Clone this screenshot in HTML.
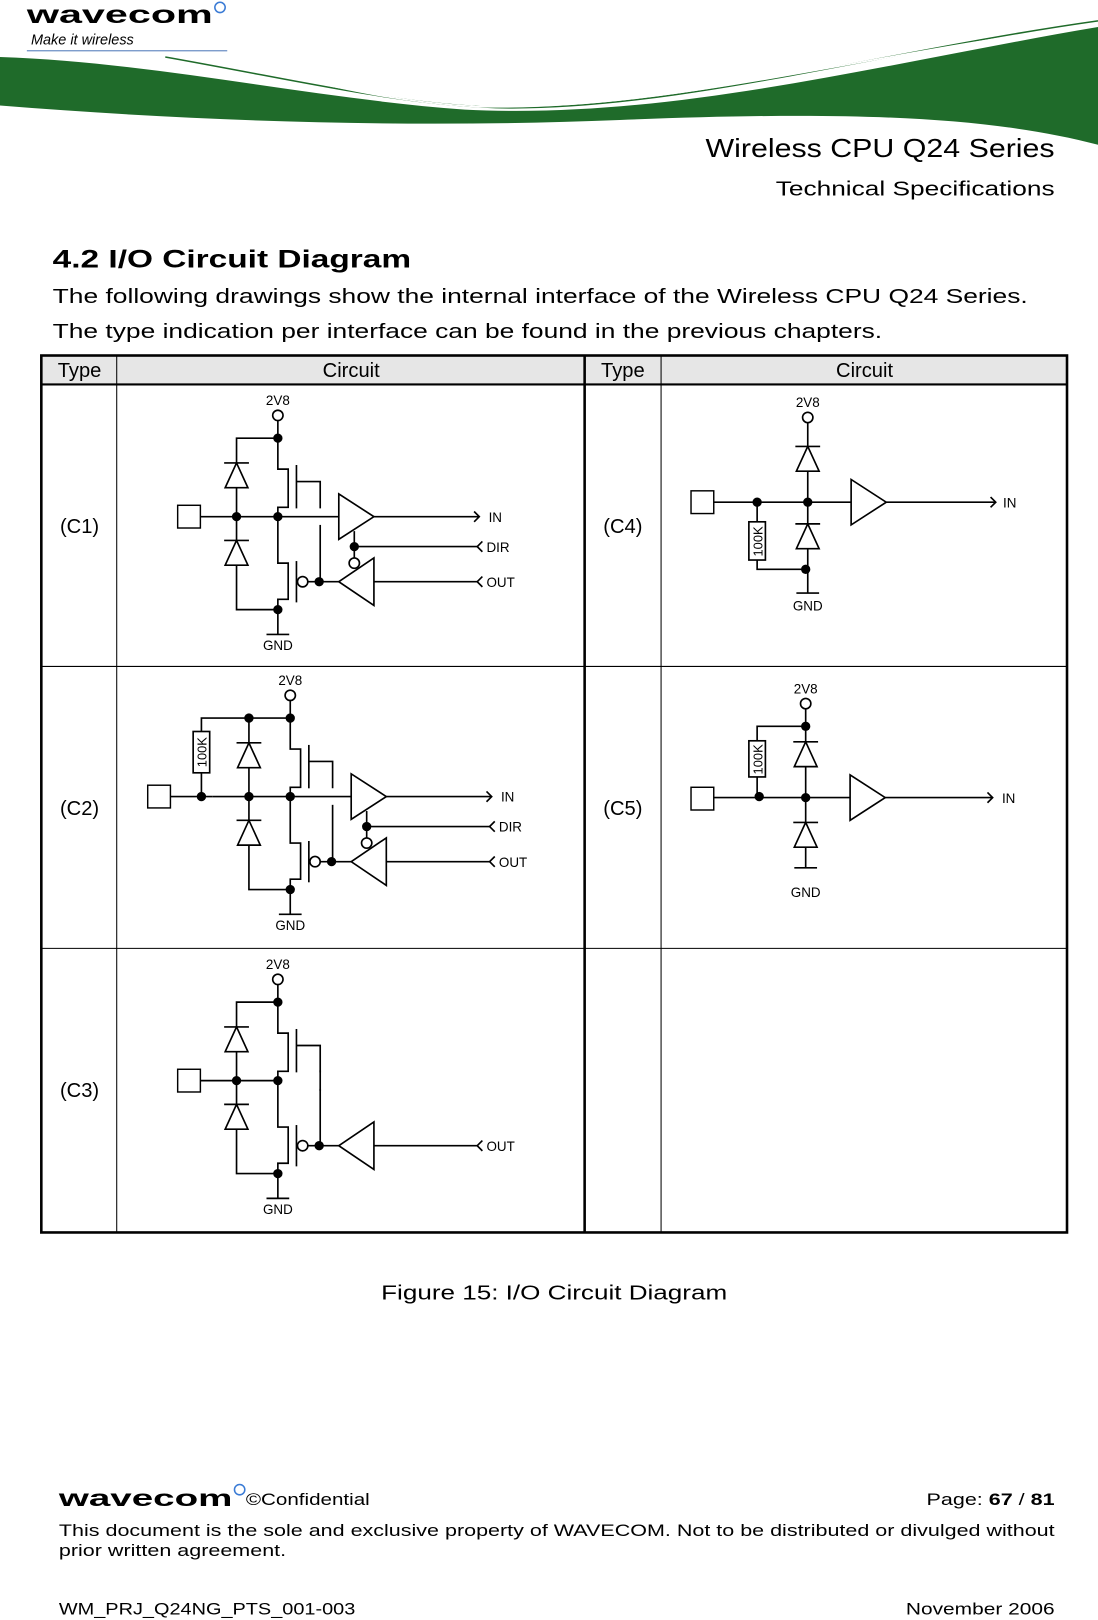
<!DOCTYPE html>
<html><head><meta charset="utf-8"><style>
html,body{margin:0;padding:0;background:#fff}
svg{display:block}
text{font-family:"Liberation Sans",sans-serif;fill:#000}
</style></head><body>
<svg width="1098" height="1620" viewBox="0 0 1063 1568" xmlns="http://www.w3.org/2000/svg">
<defs>
<g id="dn">
<polygon points="-11,24 11,24 0,0" fill="#fff" stroke="#000" stroke-width="1.6"/>
<line x1="-12" y1="0" x2="12" y2="0" stroke="#000" stroke-width="1.6"/>
</g>
<g id="mos" fill="none" stroke="#000" stroke-width="1.6">
<path d="M269,424 V454 H279 V491 H269 V500"/>
<line x1="287" y1="450" x2="287" y2="492"/>
<path d="M287,466 H310 V492"/>
<path d="M310,508 V563"/>
<path d="M269,500 V545 H279 V580 H269 V590"/>
<line x1="287" y1="543" x2="287" y2="583"/>
<circle cx="293" cy="563" r="5" fill="#fff"/>
<line x1="298" y1="563" x2="328" y2="563"/>
<polygon points="328,563 362,540 362,586" fill="#fff"/>
<line x1="362" y1="563" x2="463" y2="563"/>
<path d="M467,558 L462,563 L467,568"/>
<circle cx="269" cy="402" r="5" fill="#fff"/>
<line x1="269" y1="407" x2="269" y2="424"/>
<line x1="269" y1="590" x2="269" y2="614"/>
<line x1="258" y1="614" x2="280" y2="614"/>
<path d="M269,424 H229 V448"/>
<line x1="229" y1="471" x2="229" y2="523"/>
<path d="M229,547 V590 H269"/>
<line x1="194" y1="500" x2="269" y2="500"/>
</g>
<g id="mosdots" fill="#000">
<circle cx="269" cy="424" r="4.5"/><circle cx="229" cy="500" r="4.5"/><circle cx="269" cy="500" r="4.5"/>
<circle cx="269" cy="590" r="4.5"/><circle cx="309" cy="563" r="4.5"/>
</g>
<g id="inamp" fill="none" stroke="#000" stroke-width="1.6">
<line x1="269" y1="500" x2="328" y2="500"/>
<polygon points="328,478 328,522 362,500" fill="#fff"/>
<line x1="362" y1="500" x2="463" y2="500"/>
<path d="M459,495 L464,500 L459,505"/>
<line x1="343" y1="514" x2="343" y2="540"/>
<circle cx="343" cy="545" r="5" fill="#fff"/>
<line x1="343" y1="529" x2="463" y2="529"/>
<path d="M467,524 L462,529 L467,534"/>
</g>
</defs>

<!-- header -->
<path d="M0,55 C150,60 300,95 450,106 C650,116 850,62 1063,26 L1063,140 C950,110 800,108 600,116 C400,124 200,118 0,102 Z" fill="#1f6b2a"/>
<path d="M160,55 C300,80 380,100 480,104 C650,108 850,50 1063,20" fill="none" stroke="#1f6b2a" stroke-width="1.5"/>
<path d="M260,70 C330,85 380,98 460,103 C650,108 850,48 1063,24" fill="none" stroke="#fff" stroke-width="1.5"/>
<text x="26" y="22" font-size="24" font-weight="bold" fill="#222" textLength="180" lengthAdjust="spacingAndGlyphs">wavecom</text>
<circle cx="213" cy="7" r="5" fill="none" stroke="#3a7bd5" stroke-width="1.5"/>
<text x="30" y="43" font-size="14" font-style="italic" fill="#333">Make it wireless</text>
<line x1="26" y1="49" x2="220" y2="49" stroke="#6c8fc4" stroke-width="1.2"/>
<text x="683" y="152" font-size="25" textLength="338" lengthAdjust="spacingAndGlyphs">Wireless CPU Q24 Series</text>
<text x="751" y="189" font-size="20" textLength="270" lengthAdjust="spacingAndGlyphs">Technical Specifications</text>

<text x="51" y="259" font-size="24" font-weight="bold" textLength="347" lengthAdjust="spacingAndGlyphs">4.2 I/O Circuit Diagram</text>
<text x="51" y="293" font-size="19.5" textLength="944" lengthAdjust="spacingAndGlyphs">The following drawings show the internal interface of the Wireless CPU Q24 Series.</text>
<text x="51" y="327" font-size="19.5" textLength="803" lengthAdjust="spacingAndGlyphs">The type indication per interface can be found in the previous chapters.</text>

<!-- table -->
<rect x="40" y="344" width="993" height="28" fill="#e6e6e6"/>
<g stroke="#000" fill="none">
<rect x="40" y="344" width="993" height="849" stroke-width="2.5"/>
<line x1="40" y1="372" x2="1033" y2="372" stroke-width="2"/>
<line x1="113" y1="344" x2="113" y2="1193" stroke-width="1"/>
<line x1="566" y1="344" x2="566" y2="1193" stroke-width="2.5"/>
<line x1="640" y1="344" x2="640" y2="1193" stroke-width="1"/>
<line x1="40" y1="645" x2="1033" y2="645" stroke-width="1"/>
<line x1="40" y1="918" x2="1033" y2="918" stroke-width="1"/>
</g>
<g font-size="19.5">
<text x="77" y="365" text-anchor="middle">Type</text>
<text x="340" y="365" text-anchor="middle">Circuit</text>
<text x="603" y="365" text-anchor="middle">Type</text>
<text x="837" y="365" text-anchor="middle">Circuit</text>
<text x="77" y="516" text-anchor="middle">(C1)</text>
<text x="77" y="789" text-anchor="middle">(C2)</text>
<text x="77" y="1062" text-anchor="middle">(C3)</text>
<text x="603" y="516" text-anchor="middle">(C4)</text>
<text x="603" y="789" text-anchor="middle">(C5)</text>
</g>

<!-- C1 -->
<g>
<use href="#mos"/><use href="#inamp"/>
<use href="#dn" x="229" y="448"/><use href="#dn" x="229" y="523"/>
<use href="#mosdots"/><circle cx="343" cy="529" r="4.5"/>
<rect x="172" y="489" width="22" height="22" fill="#fff" stroke="#000" stroke-width="1.4"/>
<g font-size="13"><text x="269" y="392" text-anchor="middle">2V8</text><text x="269" y="629" text-anchor="middle">GND</text>
<text x="473" y="505">IN</text><text x="471" y="534">DIR</text><text x="471" y="568">OUT</text></g>
</g>

<!-- C2 -->
<g transform="translate(12,271)">
<use href="#mos"/><use href="#inamp"/>
<use href="#dn" x="229" y="448"/><use href="#dn" x="229" y="523"/>
<use href="#mosdots"/><circle cx="343" cy="529" r="4.5"/>
<g stroke="#000" stroke-width="1.6" fill="none">
<line x1="142" y1="500" x2="194" y2="500"/>
<path d="M183,500 V477"/><path d="M183,437 V424 H229"/>
<rect x="175" y="437" width="16" height="40" fill="#fff"/>
</g>
<circle cx="183" cy="500" r="4.5"/><circle cx="229" cy="424" r="4.5"/>
<rect x="131" y="489" width="22" height="22" fill="#fff" stroke="#000" stroke-width="1.4"/>
<text transform="translate(188,457) rotate(-90)" font-size="12.5" text-anchor="middle">100K</text>
<g font-size="13"><text x="269" y="392" text-anchor="middle">2V8</text><text x="269" y="629" text-anchor="middle">GND</text>
<text x="473" y="505">IN</text><text x="471" y="534">DIR</text><text x="471" y="568">OUT</text></g>
</g>

<!-- C3 -->
<g transform="translate(0,546)">
<use href="#mos"/>
<line x1="310" y1="490" x2="310" y2="510" stroke="#000" stroke-width="1.6"/>
<use href="#dn" x="229" y="448"/><use href="#dn" x="229" y="523"/>
<use href="#mosdots"/>
<rect x="172" y="489" width="22" height="22" fill="#fff" stroke="#000" stroke-width="1.4"/>
<g font-size="13"><text x="269" y="392" text-anchor="middle">2V8</text><text x="269" y="629" text-anchor="middle">GND</text>
<text x="471" y="568">OUT</text></g>
</g>

<!-- C4 -->
<g stroke="#000" stroke-width="1.6" fill="none">
<circle cx="782" cy="404" r="5" fill="#fff"/>
<line x1="782" y1="409" x2="782" y2="432"/>
<line x1="782" y1="456" x2="782" y2="507"/>
<line x1="782" y1="531" x2="782" y2="574"/>
<line x1="771" y1="574" x2="793" y2="574"/>
<line x1="691" y1="486" x2="824" y2="486"/>
<polygon points="824,464 824,508 858,486" fill="#fff"/>
<line x1="858" y1="486" x2="963" y2="486"/>
<path d="M959,481 L964,486 L959,491"/>
<line x1="733" y1="486" x2="733" y2="505"/>
<path d="M733,542 V551 H782"/>
<rect x="725" y="505" width="16" height="37" fill="#fff"/>
</g>
<use href="#dn" x="782" y="432"/><use href="#dn" x="782" y="507"/>
<circle cx="733" cy="486" r="4.5"/><circle cx="782" cy="486" r="4.5"/><circle cx="780" cy="551" r="4.5"/>
<rect x="669" y="475" width="22" height="22" fill="#fff" stroke="#000" stroke-width="1.4"/>
<text transform="translate(738,524) rotate(-90)" font-size="12.5" text-anchor="middle">100K</text>
<g font-size="13"><text x="782" y="394" text-anchor="middle">2V8</text><text x="782" y="591" text-anchor="middle">GND</text><text x="971" y="491">IN</text></g>

<!-- C5 -->
<g stroke="#000" stroke-width="1.6" fill="none">
<circle cx="780" cy="681" r="5" fill="#fff"/>
<line x1="780" y1="686" x2="780" y2="718"/>
<line x1="780" y1="742" x2="780" y2="796"/>
<line x1="780" y1="820" x2="780" y2="840"/>
<line x1="769" y1="840" x2="791" y2="840"/>
<line x1="691" y1="772" x2="823" y2="772"/>
<polygon points="823,750 823,794 857,772" fill="#fff"/>
<line x1="857" y1="772" x2="960" y2="772"/>
<path d="M956,767 L961,772 L956,777"/>
<path d="M780,703 H733 V717"/>
<line x1="733" y1="752" x2="733" y2="772"/>
<rect x="725" y="717" width="16" height="35" fill="#fff"/>
</g>
<use href="#dn" x="780" y="718"/><use href="#dn" x="780" y="796"/>
<circle cx="780" cy="703" r="4.5"/><circle cx="735" cy="771" r="4.5"/><circle cx="780" cy="772" r="4.5"/>
<rect x="669" y="762" width="22" height="22" fill="#fff" stroke="#000" stroke-width="1.4"/>
<text transform="translate(738,735) rotate(-90)" font-size="12.5" text-anchor="middle">100K</text>
<g font-size="13"><text x="780" y="671" text-anchor="middle">2V8</text><text x="780" y="868" text-anchor="middle">GND</text><text x="970" y="777">IN</text></g>

<text x="369" y="1258" font-size="20" textLength="335" lengthAdjust="spacingAndGlyphs">Figure 15: I/O Circuit Diagram</text>

<!-- footer -->
<text x="57" y="1458" font-size="22" font-weight="bold" fill="#222" textLength="168" lengthAdjust="spacingAndGlyphs">wavecom</text>
<circle cx="232" cy="1442" r="5" fill="none" stroke="#3a7bd5" stroke-width="1.5"/>
<text x="238" y="1457" font-size="16" textLength="120" lengthAdjust="spacingAndGlyphs">©Confidential</text>
<text x="897" y="1457" font-size="16" textLength="124" lengthAdjust="spacingAndGlyphs">Page: <tspan font-weight="bold">67</tspan> / <tspan font-weight="bold">81</tspan></text>
<text x="57" y="1487" font-size="16" textLength="964" lengthAdjust="spacingAndGlyphs">This document is the sole and exclusive property of WAVECOM. Not to be distributed or divulged without</text>
<text x="57" y="1506" font-size="16" textLength="220" lengthAdjust="spacingAndGlyphs">prior written agreement.</text>
<text x="57" y="1563" font-size="16" textLength="287" lengthAdjust="spacingAndGlyphs">WM_PRJ_Q24NG_PTS_001-003</text>
<text x="877" y="1563" font-size="16" textLength="144" lengthAdjust="spacingAndGlyphs">November 2006</text>
</svg>
</body></html>
